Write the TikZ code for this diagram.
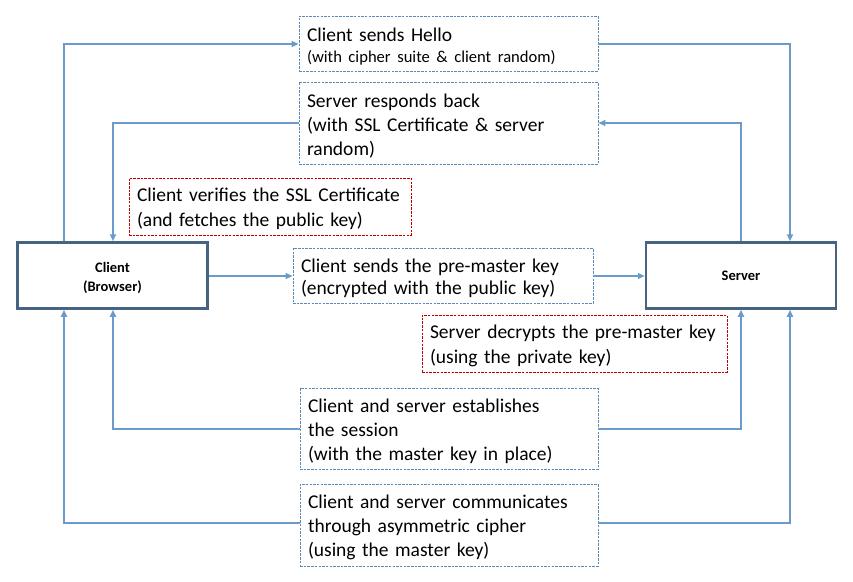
\documentclass[tikz,border=0pt]{standalone}
\usepackage{fontspec}
\setmainfont{Carlito}
\usetikzlibrary{arrows.meta}
\definecolor{conn}{RGB}{106,155,203}
\definecolor{mainbd}{RGB}{70,100,127}
\definecolor{bluedash}{RGB}{90,138,181}
\definecolor{reddash}{RGB}{192,0,0}
\tikzset{
  conline/.style={draw=conn, line width=2pt, -{Triangle[length=7pt,width=6pt]}},
  mainbox/.style={draw=mainbd, line width=2.5pt, rectangle, minimum width=190pt, minimum height=66pt, align=center, font=\fontsize{14.5}{19}\selectfont\bfseries},
  stepbox/.style={draw=bluedash, line width=0.9pt, dash pattern=on 2.5pt off 1.2pt, rectangle, inner xsep=8pt, inner ysep=0pt, align=left, font=\fontsize{19.5}{24}\selectfont, text height=19pt},
  notebox/.style={stepbox, draw=reddash},
}
\begin{document}
\begin{tikzpicture}[x=1pt,y=-1pt]
\useasboundingbox (0,0) rectangle (853,581);
\node[mainbox, text width=170pt, text height=16pt] (client) at (112.5,275.5) {Client\\(Browser)};
\node[mainbox] (server) at (741,275.5) {Server};
\node[stepbox, minimum height=55pt, text width=283pt, font=\fontsize{19.5}{21}\selectfont] (hello) at (448.5,43.5) {Client sends Hello\\{\fontsize{16.6}{21}\selectfont (with cipher suite \& client random)}};
\node[stepbox, minimum height=82pt, text width=283pt] (resp) at (448.5,123) {Server responds back\\(with SSL Certificate \& server\\random)};
\node[notebox, minimum height=57pt, text width=266pt, font=\fontsize{19.5}{25}\selectfont] (verify) at (270,206.5) {Client verifies the SSL Certificate\\(and fetches the public key)};
\node[stepbox, minimum height=55pt, text width=284pt, font=\fontsize{19.5}{22}\selectfont] (pre) at (443,275.5) {Client sends the pre-master key\\(encrypted with the public key)};
\node[notebox, minimum height=57pt, text width=289pt, font=\fontsize{19.5}{25}\selectfont] (decrypt) at (574.5,343.5) {Server decrypts the pre-master key\\(using the private key)};
\node[stepbox, minimum height=81pt, text width=282pt] (sess) at (449,428.5) {Client and server establishes\\the session\\(with the master key in place)};
\node[stepbox, minimum height=82pt, text width=282pt] (comm) at (449,525) {Client and server communicates\\through asymmetric cipher\\(using the master key)};
% connectors
\draw[conline] (client.north -| 64,0) |- (hello.west |- 0,44);
\draw[conline] (hello.east |- 0,44) -| (server.north -| 790,0);
\draw[conline] (server.north -| 741,0) |- (resp.east |- 0,123);
\draw[conline] (resp.west |- 0,123) -| (client.north -| 113,0);
\draw[conline] (client.east |- 0,276) -- (pre.west |- 0,276);
\draw[conline] (pre.east |- 0,276) -- (server.west |- 0,276);
\draw[conline] (sess.west |- 0,429) -| (client.south -| 113,0);
\draw[conline] (sess.east |- 0,429) -| (server.south -| 741,0);
\draw[conline] (comm.west |- 0,523) -| (client.south -| 64,0);
\draw[conline] (comm.east |- 0,523) -| (server.south -| 790,0);
\end{tikzpicture}
\end{document}
